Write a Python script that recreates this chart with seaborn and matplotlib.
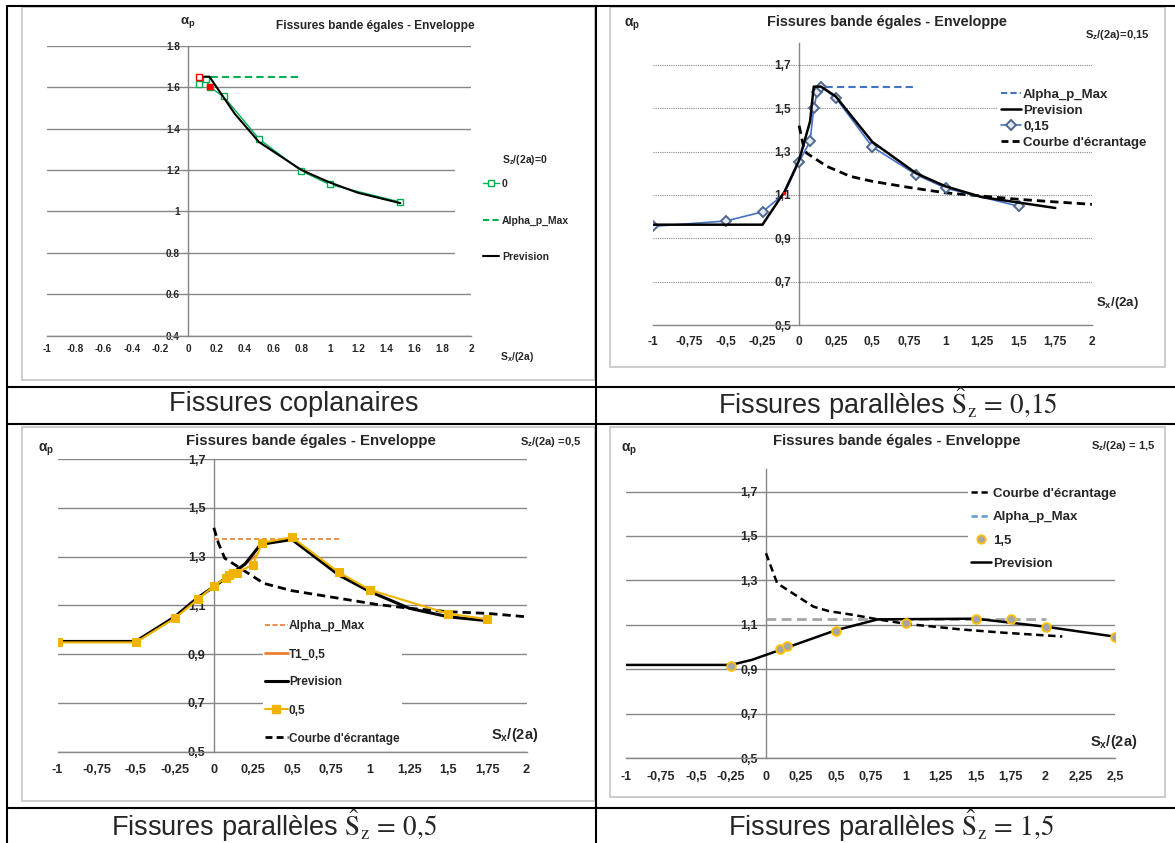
import matplotlib
matplotlib.use("Agg")
import matplotlib.pyplot as plt
from matplotlib.lines import Line2D
from matplotlib.patches import Rectangle
from matplotlib.ticker import FuncFormatter, AutoMinorLocator
import seaborn as sns

W, H = 1175, 843

# ---- chart 1 : coplanar cracks (Sz/(2a) = 0)
c1_x = [0.075, 0.125, 0.15, 0.25, 0.5, 0.8, 1.0, 1.5]
c1_y = [1.613, 1.637, 1.60, 1.555, 1.35, 1.195, 1.13, 1.045]
c1_red_open_x = [0.075]
c1_red_open_y = [1.648]
c1_red_fill_x = [0.15]
c1_red_fill_y = [1.60]
c1_max_x = [0.075, 0.8]
c1_max_y = [1.65, 1.65]
c1_prev_x = [0.08, 0.15, 0.25, 0.33, 0.5, 0.8, 1.0, 1.2, 1.5]
c1_prev_y = [1.65, 1.65, 1.55, 1.47, 1.335, 1.20, 1.14, 1.09, 1.04]

# ---- chart 2 : Sz/(2a) = 0,15
c2_x = [-1, -0.5, -0.25, -0.1, 0, 0.075, 0.1, 0.125, 0.15, 0.25, 0.5, 0.8, 1.0, 1.5]
c2_y = [0.955, 0.98, 1.022, 1.107, 1.253, 1.348, 1.503, 1.575, 1.60, 1.549, 1.322, 1.194, 1.132, 1.048]
c2_red_x = [-0.1]
c2_red_y = [1.107]
c2_max_x = [0.1, 0.8]
c2_max_y = [1.60, 1.60]
c2_prev_x = [-1, -0.25, -0.1, 0, 0.075, 0.1, 0.15, 0.25, 0.5, 0.8, 1.0, 1.25, 1.75]
c2_prev_y = [0.963, 0.963, 1.115, 1.26, 1.44, 1.60, 1.60, 1.555, 1.345, 1.20, 1.14, 1.09, 1.04]
c2_ecr_x = [0, 0.03, 0.05, 0.19, 0.35, 0.5, 0.75, 1.0, 1.25, 1.5, 1.75, 2.0]
c2_ecr_y = [1.42, 1.325, 1.294, 1.232, 1.186, 1.163, 1.135, 1.11, 1.095, 1.08, 1.068, 1.057]

# ---- chart 3 : Sz/(2a) = 0,5
c3_x = [-1, -0.5, -0.25, -0.1, 0, 0.075, 0.1, 0.125, 0.15, 0.25, 0.31, 0.5, 0.8, 1.0, 1.5, 1.75]
c3_y = [0.948, 0.948, 1.047, 1.126, 1.179, 1.212, 1.223, 1.231, 1.234, 1.267, 1.357, 1.379, 1.235, 1.163, 1.066, 1.043]
c3_t1_x = [-0.5, -0.25, 0, 0.15, 0.28]
c3_t1_y = [0.95, 1.05, 1.18, 1.24, 1.31]
c3_max_x = [0, 0.8]
c3_max_y = [1.372, 1.372]
c3_prev_x = [-1, -0.5, -0.25, -0.1, 0, 0.2, 0.3, 0.5, 0.8, 1.0, 1.25, 1.5, 1.75]
c3_prev_y = [0.952, 0.952, 1.053, 1.133, 1.176, 1.27, 1.35, 1.37, 1.224, 1.156, 1.088, 1.053, 1.037]
c3_ecr_x = [0, 0.03, 0.07, 0.17, 0.32, 0.5, 0.8, 1.04, 1.25, 1.5, 1.75, 2.0]
c3_ecr_y = [1.418, 1.354, 1.293, 1.252, 1.19, 1.16, 1.129, 1.104, 1.088, 1.074, 1.067, 1.053]

# ---- chart 4 : Sz/(2a) = 1,5
c4_x = [-0.25, 0.1, 0.15, 0.5, 1.0, 1.5, 1.75, 2.0, 2.5]
c4_y = [0.917, 0.99, 1.003, 1.071, 1.108, 1.127, 1.127, 1.09, 1.047]
c4_max_x = [0, 2.0]
c4_max_y = [1.127, 1.127]
c4_prev_x = [-1, -0.25, -0.1, 0, 0.5, 0.8, 1.5, 2.0, 2.5]
c4_prev_y = [0.92, 0.92, 0.943, 0.965, 1.076, 1.125, 1.128, 1.092, 1.047]
c4_ecr_x = [0, 0.08, 0.34, 0.45, 0.625, 0.8, 1.0, 1.39, 1.7, 2.12]
c4_ecr_y = [1.4225, 1.2875, 1.182, 1.162, 1.145, 1.125, 1.105, 1.08, 1.065, 1.048]

# ticks
c1_xticks = [-1, -0.8, -0.6, -0.4, -0.2, 0, 0.2, 0.4, 0.6, 0.8, 1, 1.2, 1.4, 1.6, 1.8, 2]
c1_yticks = [0.4, 0.6, 0.8, 1.0, 1.2, 1.4, 1.6, 1.8]
cx_ticks = [-1, -0.75, -0.5, -0.25, 0, 0.25, 0.5, 0.75, 1, 1.25, 1.5, 1.75, 2]
c4_xticks = cx_ticks + [2.25, 2.5]
cy_ticks = [0.5, 0.7, 0.9, 1.1, 1.3, 1.5, 1.7]

captions = ["Fissures coplanaires",
            r"Fissures parallèles $\hat{\mathrm{S}}_{\mathrm{z}}\,=\,0{,}15$",
            r"Fissures parallèles $\hat{\mathrm{S}}_{\mathrm{z}}\,=\,0{,}5$",
            r"Fissures parallèles $\hat{\mathrm{S}}_{\mathrm{z}}\,=\,1{,}5$"]

TITLE = "Fissures bande égales - Enveloppe"
GRAY = "#868686"

sns.set_style("white")
plt.rcParams["font.family"] = ["Liberation Sans", "DejaVu Sans"]
plt.rcParams["mathtext.fontset"] = "custom"
plt.rcParams["mathtext.rm"] = "Liberation Sans"
plt.rcParams["mathtext.bf"] = "Liberation Sans:bold"
plt.rcParams["mathtext.it"] = "Liberation Sans:italic"


def px_axes(fig, left, top, right, bottom):
    return fig.add_axes([left / W, 1 - bottom / H, (right - left) / W, (bottom - top) / H])


def fmt(comma):
    def f(v, pos):
        s = f"{round(v, 2):g}"
        if s == "-0":
            s = "0"
        return s.replace(".", ",") if comma else s
    return FuncFormatter(f)


def style_axes(ax, xlim, ylim, xticks, yticks, comma, fs, grid_ls, grid_lw, xpad):
    ax.set_facecolor("none")
    ax.set_xlim(xlim)
    ax.set_ylim(ylim)
    ax.spines["top"].set_visible(False)
    ax.spines["right"].set_visible(False)
    ax.spines["left"].set_position(("data", 0))
    for s in ["left", "bottom"]:
        ax.spines[s].set_color(GRAY)
        ax.spines[s].set_linewidth(1.0)
    ax.set_xticks(xticks)
    ax.set_yticks(yticks)
    ax.xaxis.set_minor_locator(AutoMinorLocator(5))
    ax.yaxis.set_minor_locator(AutoMinorLocator(5))
    ax.xaxis.set_major_formatter(fmt(comma))
    ax.yaxis.set_major_formatter(fmt(comma))
    ax.tick_params(axis="x", which="major", direction="in", length=4, color=GRAY, labelsize=fs, pad=xpad)
    ax.tick_params(axis="x", which="minor", direction="in", length=2.5, color=GRAY)
    ax.tick_params(axis="y", which="major", direction="out", length=4, color=GRAY, labelsize=fs, pad=2)
    ax.tick_params(axis="y", which="minor", direction="out", length=2.5, color=GRAY)
    plt.setp(ax.get_xticklabels() + ax.get_yticklabels(), fontweight="bold")
    ax.set_axisbelow(True)
    ax.grid(axis="y", which="major", color=GRAY, linestyle=grid_ls, linewidth=grid_lw)
    ax.grid(axis="x", visible=False)
    ax.set_xlabel("")
    ax.set_ylabel("")


def put_legend(fig, ax, handles, labels, x, y, fs, hl, lsp, htp=0.15):
    leg = ax.legend(handles=handles, labels=labels, loc="upper left",
                    bbox_to_anchor=(x / W, 1 - y / H), bbox_transform=fig.transFigure,
                    frameon=True, facecolor="white", edgecolor="none", framealpha=1,
                    fancybox=False, prop={"size": fs, "weight": "bold"},
                    handlelength=hl, handletextpad=htp, labelspacing=lsp,
                    borderpad=0.2, borderaxespad=0, numpoints=1)
    leg.set_zorder(6)
    return leg


def line(ax, x, y, **kw):
    sns.lineplot(x=x, y=y, ax=ax, sort=False, estimator=None, legend=False, **kw)


def label(fig, x, y, s, fs, ha="center"):
    fig.text(x / W, 1 - y / H, s, ha=ha, va="center", fontsize=fs, fontweight="bold")


fig = plt.figure(figsize=(W / 100, H / 100), dpi=100)

# background: table lines, chart frames, captions
bg = fig.add_axes([0, 0, 1, 1], zorder=0)
bg.set_xlim(0, W)
bg.set_ylim(H, 0)
bg.axis("off")
for x0, y0, x1, y1 in [(22, 7, 595, 380), (610, 7, 1165, 367),
                       (22, 427, 595, 801), (610, 427, 1165, 797)]:
    bg.add_patch(Rectangle((x0, y0), x1 - x0, y1 - y0, fill=False,
                           edgecolor="#C8C8C8", linewidth=1.3))
lk = dict(color="black", linewidth=1.5)
bg.plot([7, W], [6, 6], **lk)
bg.plot([7, 7], [6, H], **lk)
bg.plot([596, 596], [6, H], **lk)
for yy in [387, 424, 808]:
    bg.plot([7, W], [yy, yy], **lk)
for (cx, cy), cap in zip([(294, 404), (888, 404), (274, 826), (891, 826)], captions):
    bg.text(cx, cy, cap, ha="center", va="center", fontsize=19.5,
            fontweight="normal", math_fontfamily="stix")

# ================= chart 1
ax1 = px_axes(fig, 47, 45.7, 471, 335.7)
style_axes(ax1, (-1, 2), (0.4, 1.8), c1_xticks, c1_yticks, False, 7.2, "-", 1.0, 6)
GREEN = "#00B050"
line(ax1, c1_x, c1_y, color=GREEN, linewidth=1.0, marker="s", markersize=5,
     markerfacecolor="white", markeredgecolor=GREEN, markeredgewidth=1.0, zorder=3)
line(ax1, c1_max_x, c1_max_y, color=GREEN, linewidth=1.5, dashes=(3.5, 2), zorder=3)
line(ax1, c1_prev_x, c1_prev_y, color="black", linewidth=1.5, zorder=4)
sns.scatterplot(x=c1_red_open_x, y=c1_red_open_y, ax=ax1, marker="s", s=22,
                facecolor="white", edgecolor="red", linewidth=1.0, zorder=5)
sns.scatterplot(x=c1_red_fill_x, y=c1_red_fill_y, ax=ax1, marker="s", s=14,
                color="red", edgecolor="red", zorder=5)
ax1.add_patch(Rectangle((455 / W, 1 - 290 / H), 135 / W, 138 / H, transform=fig.transFigure,
                        facecolor="white", edgecolor="none", zorder=1.5, clip_on=False))
label(fig, 525, 160, r"S$_\mathbf{z}$/(2a)=0", 7.5)
put_legend(fig, ax1, [
    Line2D([], [], color=GREEN, lw=1.0, marker="s", ms=5, mfc="white", mec=GREEN),
    Line2D([], [], color=GREEN, lw=1.5, dashes=(3, 1.5)),
    Line2D([], [], color="black", lw=1.5)],
    ["0", "Alpha_p_Max", "Prevision"],
    481, 177, 7.5, 1.55, 2.53, 0.25)
label(fig, 375.5, 26, TITLE, 8.6)
label(fig, 188, 23, r"α$_\mathbf{p}$", 9.5)
label(fig, 517.5, 357, r"S$_\mathbf{x}$/(2a)", 7.5)

# ================= chart 2
ax2 = px_axes(fig, 652.7, 43.3, 1091.9, 325)
style_axes(ax2, (-1, 2), (0.5, 1.8), cx_ticks, cy_ticks, True, 8.6, (0, (1, 1)), 0.8, 8)
BLUE = "#4472C4"
line(ax2, c2_max_x, c2_max_y, color=BLUE, linewidth=1.5, dashes=(3.5, 2), zorder=3)
line(ax2, c2_ecr_x, c2_ecr_y, color="black", linewidth=2.0, dashes=(3, 1.8), zorder=3)
line(ax2, c2_x, c2_y, color=BLUE, linewidth=1.2, marker="D", markersize=5,
     markerfacecolor="#E4EAF4", markeredgecolor="#50688C", markeredgewidth=1.4,
     markevery=[i for i in range(len(c2_x)) if i != 3], zorder=4)
line(ax2, c2_prev_x, c2_prev_y, color="black", linewidth=1.8, zorder=4)
sns.scatterplot(x=c2_red_x, y=c2_red_y, ax=ax2, s=6, color="red", edgecolor="none", zorder=5)
put_legend(fig, ax2, [
    Line2D([], [], color=BLUE, lw=1.5, dashes=(3, 1.5)),
    Line2D([], [], color="black", lw=1.8),
    Line2D([], [], color=BLUE, lw=1.2, marker="D", ms=5, mfc="#E4EAF4", mec="#50688C", mew=1.4),
    Line2D([], [], color="black", lw=2.0, dashes=(2.5, 1.5))],
    ["Alpha_p_Max", "Prevision", "0,15", "Courbe d'écrantage"],
    998, 86, 9.5, 1.55, 0.28)
label(fig, 887, 22, TITLE, 10.4)
label(fig, 632, 25, r"α$_\mathbf{p}$", 10)
label(fig, 1150, 35, r"S$_\mathbf{z}$/(2a)=0,15", 8, ha="right")
label(fig, 1118, 303, r"S$_\mathbf{x}$/(2a)", 9.5)

# ================= chart 3
ax3 = px_axes(fig, 57.5, 459, 526.5, 751.7)
style_axes(ax3, (-1, 2), (0.5, 1.7), cx_ticks, cy_ticks, True, 9.2, "-", 1.0, 9)
GOLD = "#F0B400"
ORANGE = "#ED7D31"
line(ax3, c3_max_x, c3_max_y, color=ORANGE, linewidth=1.2, dashes=(3, 1.8), zorder=3)
line(ax3, c3_ecr_x, c3_ecr_y, color="black", linewidth=2.0, dashes=(3, 1.8), zorder=3)
line(ax3, c3_t1_x, c3_t1_y, color=ORANGE, linewidth=1.5, zorder=3)
line(ax3, c3_prev_x, c3_prev_y, color="black", linewidth=2.2, zorder=4)
line(ax3, c3_x, c3_y, color=GOLD, linewidth=1.5, marker="s", markersize=6,
     markerfacecolor=GOLD, markeredgecolor=GOLD, zorder=5)
put_legend(fig, ax3, [
    Line2D([], [], color=ORANGE, lw=1.2, dashes=(3, 1.5)),
    Line2D([], [], color=ORANGE, lw=2.0),
    Line2D([], [], color="black", lw=2.2),
    Line2D([], [], color=GOLD, lw=1.5, marker="s", ms=6, mfc=GOLD, mec=GOLD),
    Line2D([], [], color="black", lw=2.0, dashes=(2.5, 1.5))],
    ["Alpha_p_Max", "T1_0,5", "Prevision", "0,5", "Courbe d'écrantage"],
    262.6, 618, 8.5, 1.95, 1.36, 0.08)
label(fig, 310.6, 440.7, TITLE, 10.8)
label(fig, 46, 450, r"α$_\mathbf{p}$", 10)
label(fig, 581, 441.7, r"S$_\mathbf{z}$/(2a) =0,5", 8, ha="right")
label(fig, 515, 735, r"S$_\mathbf{x}$/(2a)", 10.5)

# ================= chart 4
ax4 = px_axes(fig, 626.2, 469.3, 1115.4, 758.3)
style_axes(ax4, (-1, 2.5), (0.5, 1.8), c4_xticks, cy_ticks, True, 9.0, "-", 1.0, 9)
LGRAY = "#A5A5A5"
line(ax4, c4_max_x, c4_max_y, color=LGRAY, linewidth=2.0, dashes=(3.5, 2), zorder=3)
line(ax4, c4_ecr_x, c4_ecr_y, color="black", linewidth=1.8, dashes=(3, 1.8), zorder=3)
line(ax4, c4_prev_x, c4_prev_y, color="black", linewidth=1.8, zorder=4)
sns.scatterplot(x=c4_x, y=c4_y, ax=ax4, s=40, color=LGRAY, edgecolor="#FFC000",
                linewidth=1.3, zorder=5, legend=False)
put_legend(fig, ax4, [
    Line2D([], [], color="black", lw=1.8, dashes=(2.5, 1.5)),
    Line2D([], [], color="#5B9BD5", lw=1.8, dashes=(2.5, 1.5)),
    Line2D([], [], ls="none", marker="o", ms=6, mfc=LGRAY, mec="#FFC000", mew=1.3),
    Line2D([], [], color="black", lw=1.8)],
    ["Courbe d'écrantage", "Alpha_p_Max", "1,5", "Prevision"],
    968, 485, 9.5, 1.55, 0.84)
label(fig, 896.3, 441, TITLE, 10.7)
label(fig, 629, 450, r"α$_\mathbf{p}$", 10)
label(fig, 1156, 446, r"S$_\mathbf{z}$/(2a) = 1,5", 8, ha="right")
label(fig, 1114, 741.7, r"S$_\mathbf{x}$/(2a)", 10.5)

fig.savefig("out.png", dpi=100, facecolor="white")
